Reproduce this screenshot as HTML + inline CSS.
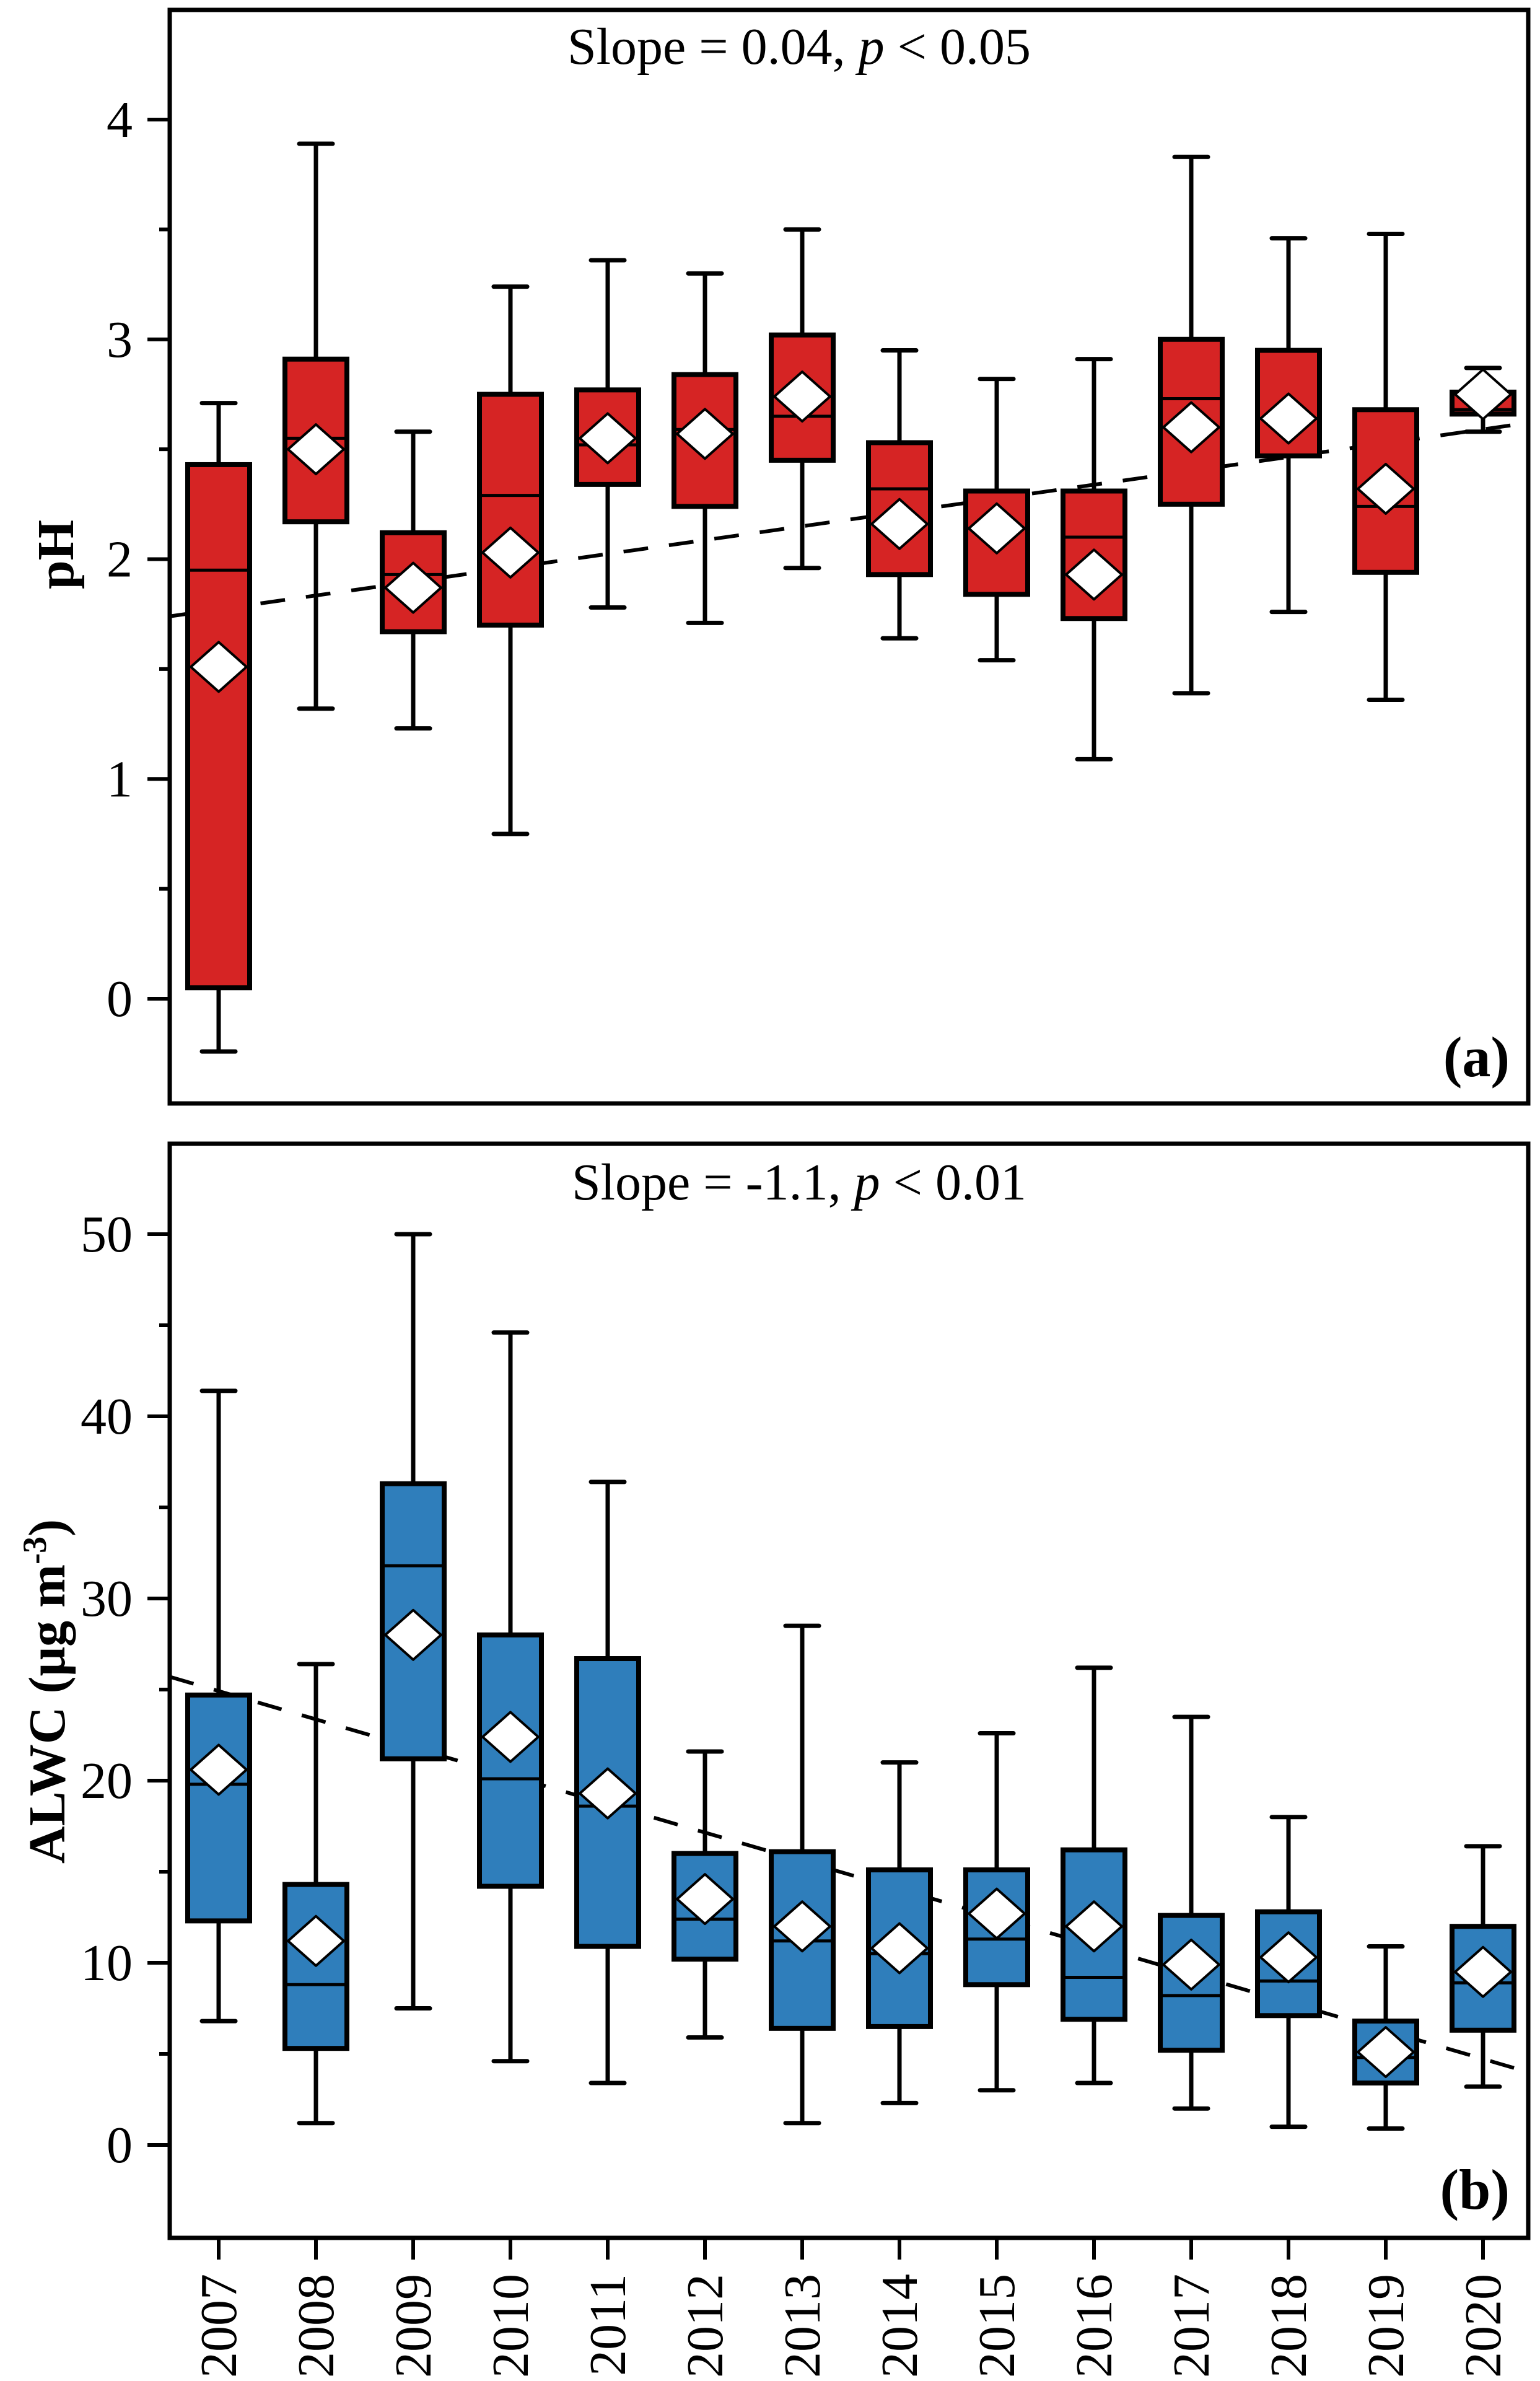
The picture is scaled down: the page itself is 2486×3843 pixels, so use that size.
<!DOCTYPE html>
<html><head><meta charset="utf-8">
<style>
html,body{margin:0;padding:0;background:#fff;}
svg{display:block;font-family:"Liberation Serif",serif;}
</style></head>
<body>
<svg id="chart" width="2486" height="3843" viewBox="0 0 2486 3843" xmlns="http://www.w3.org/2000/svg">
<g id="gA"></g>
<g id="gB"></g>
<g id="gX"></g>
<text x="1290" y="103" font-size="84" text-anchor="middle">Slope = 0.04, <tspan font-style="italic">p</tspan> &lt; 0.05</text>
<text x="1290" y="1936" font-size="84" text-anchor="middle">Slope = -1.1, <tspan font-style="italic">p</tspan> &lt; 0.01</text>
<text x="2437" y="1737" font-size="92" font-weight="bold" text-anchor="end">(a)</text>
<text x="2437" y="3565" font-size="92" font-weight="bold" text-anchor="end">(b)</text>
<text x="118" y="895" font-size="84" font-weight="bold" text-anchor="middle" transform="rotate(-90 118 895)">pH</text>
<text x="104" y="2730" font-size="84" font-weight="bold" text-anchor="middle" transform="rotate(-90 104 2730)">ALWC (μg m<tspan baseline-shift="super" font-size="54">-3</tspan>)</text>
</svg>
<script>
const years = [2007,2008,2009,2010,2011,2012,2013,2014,2015,2016,2017,2018,2019,2020];
// pH panel (a)
const phWhiskerHigh = [2.71,3.89,2.58,3.24,3.36,3.30,3.50,2.95,2.82,2.91,3.83,3.46,3.48,2.87];
const phQ3          = [2.43,2.91,2.12,2.75,2.77,2.84,3.02,2.53,2.31,2.31,3.00,2.95,2.68,2.76];
const phMedian      = [1.95,2.55,1.93,2.29,2.52,2.59,2.65,2.32,2.14,2.10,2.73,2.64,2.24,2.68];
const phQ1          = [0.05,2.17,1.67,1.70,2.34,2.24,2.45,1.93,1.84,1.73,2.25,2.47,1.94,2.66];
const phWhiskerLow  = [-0.24,1.32,1.23,0.75,1.78,1.71,1.96,1.64,1.54,1.09,1.39,1.76,1.36,2.58];
const phMean        = [1.51,2.50,1.87,2.03,2.55,2.57,2.74,2.16,2.14,1.93,2.60,2.64,2.32,2.75];
const phTrend       = [1.74,2.62];
const phTicks       = [0,1,2,3,4];
const phMinor       = [0.5,1.5,2.5,3.5];
// ALWC panel (b)
const awWhiskerHigh = [41.4,26.4,50.0,44.6,36.4,21.6,28.5,21.0,22.6,26.2,23.5,18.0,10.9,16.4];
const awQ3          = [24.7,14.3,36.3,28.0,26.7,16.0,16.1,15.1,15.1,16.2,12.6,12.8,6.8,12.0];
const awMedian      = [19.8,8.8,31.8,20.1,18.6,12.4,11.2,10.5,11.3,9.2,8.2,9.0,4.8,8.9];
const awQ1          = [12.3,5.3,21.2,14.2,10.9,10.2,6.4,6.5,8.8,6.9,5.2,7.1,3.4,6.3];
const awWhiskerLow  = [6.8,1.2,7.5,4.6,3.4,5.9,1.2,2.3,3.0,3.4,2.0,1.0,0.9,3.2];
const awMean        = [20.6,11.2,28.0,22.4,19.3,13.5,12.0,10.8,12.7,12.0,9.9,10.3,5.1,9.5];
const awTrend       = [25.7,4.0];
const awTicks       = [0,10,20,30,40,50];
const awMinor       = [5,15,25,35,45];

const NS="http://www.w3.org/2000/svg";
const L=274, R=2467;
const xOf = yr => 353 + (yr-2007)*157;
function el(parent,tag,attrs,text){
  const e=document.createElementNS(NS,tag);
  for(const k in attrs) e.setAttribute(k,attrs[k]);
  if(text!==undefined) e.textContent=text;
  parent.appendChild(e); return e;
}
function panel(g, cfg){
  const yOf = v => cfg.y0 - v*cfg.k;
  const tl = el(g,'line',{x1:L,y1:yOf(cfg.trend[0]),x2:R,y2:yOf(cfg.trend[1]),stroke:'#000','stroke-width':6,'stroke-dasharray':'40 34'});
  
  
  years.forEach((yr,i)=>{
    const cx=xOf(yr);
    const bg=el(g,'g',{});
    
    
    const hi=yOf(cfg.hi[i]), q3=yOf(cfg.q3[i]), md=yOf(cfg.md[i]), q1=yOf(cfg.q1[i]), lo=yOf(cfg.lo[i]), mn=yOf(cfg.mn[i]);
    el(bg,'line',{x1:cx,y1:hi,x2:cx,y2:q3,stroke:'#000','stroke-width':7});
    el(bg,'line',{x1:cx,y1:q1,x2:cx,y2:lo,stroke:'#000','stroke-width':7});
    el(bg,'line',{x1:cx-27,y1:hi,x2:cx+27,y2:hi,stroke:'#000','stroke-width':7,'stroke-linecap':'round'});
    el(bg,'line',{x1:cx-27,y1:lo,x2:cx+27,y2:lo,stroke:'#000','stroke-width':7,'stroke-linecap':'round'});
    el(bg,'rect',{x:cx-50,y:q3,width:100,height:Math.max(1,q1-q3),fill:cfg.color,stroke:'#000','stroke-width':8});
    el(bg,'line',{x1:cx-50,y1:md,x2:cx+50,y2:md,stroke:'#000','stroke-width':5});
    const d=el(bg,'polygon',{points:`${cx-45},${mn} ${cx},${mn-40} ${cx+45},${mn} ${cx},${mn+40}`,fill:'#fff',stroke:'#000','stroke-width':4,'stroke-linejoin':'round'});
    
    
  });
  const fr=el(g,'rect',{x:L,y:cfg.top,width:R-L,height:cfg.bot-cfg.top,fill:'none',stroke:'#000','stroke-width':7});
  
  
  cfg.ticks.forEach(t=>{
    const y=yOf(t);
    el(g,'line',{x1:238,y1:y,x2:L,y2:y,stroke:'#000','stroke-width':6});
    const tx=el(g,'text',{x:214,y:y+28,'font-size':84,'text-anchor':'end'},String(t));
    
    
  });
  cfg.minor.forEach(t=>{
    const y=yOf(t);
    el(g,'line',{x1:257,y1:y,x2:L,y2:y,stroke:'#000','stroke-width':6});
  });
}
panel(document.getElementById('gA'),{name:'ph',y0:1612,k:354.75,top:16,bot:1781,color:'#d62424',
  hi:phWhiskerHigh,q3:phQ3,md:phMedian,q1:phQ1,lo:phWhiskerLow,mn:phMean,trend:phTrend,ticks:phTicks,minor:phMinor});
panel(document.getElementById('gB'),{name:'alwc',y0:3462,k:29.4,top:1846,bot:3612,color:'#2f7ebb',
  hi:awWhiskerHigh,q3:awQ3,md:awMedian,q1:awQ1,lo:awWhiskerLow,mn:awMean,trend:awTrend,ticks:awTicks,minor:awMinor});
const gX=document.getElementById('gX');
years.forEach(yr=>{
  const x=xOf(yr);
  el(gX,'line',{x1:x,y1:3612,x2:x,y2:3647,stroke:'#000','stroke-width':6});
  const t=el(gX,'text',{x:x+28,y:3670,'font-size':84,'text-anchor':'end',transform:`rotate(-90 ${x+28} 3670)`},String(yr));
  
  
});
</script>
</body></html>
